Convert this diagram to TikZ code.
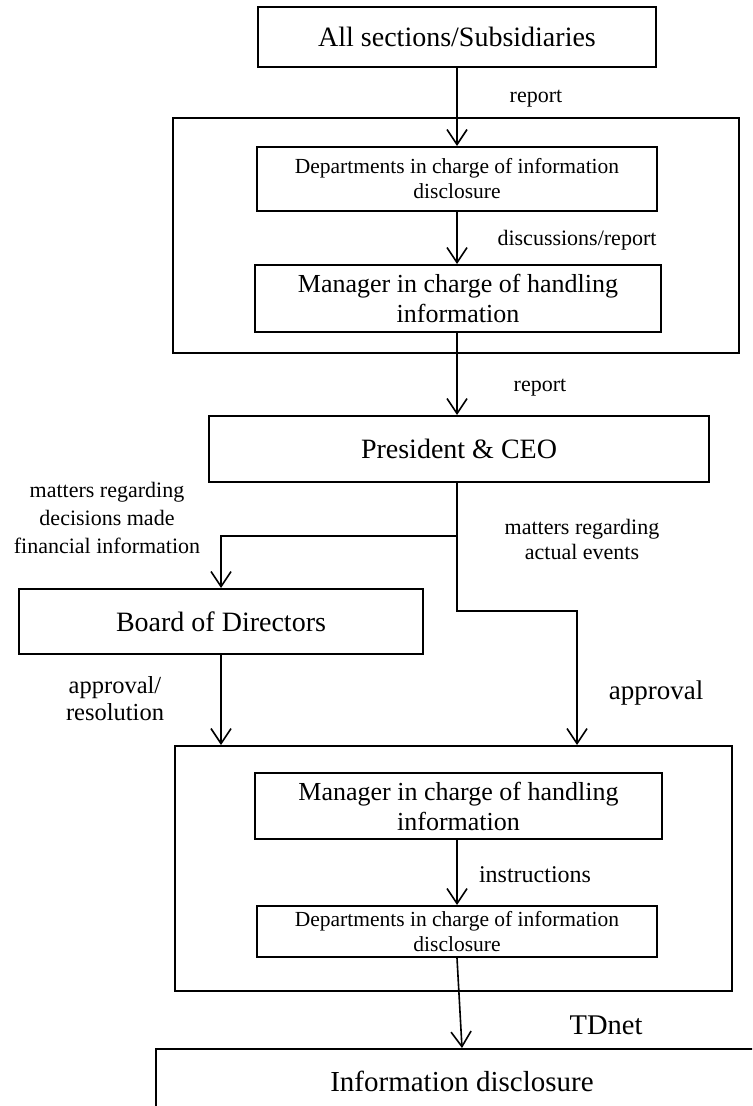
\documentclass[tikz,border=0pt]{standalone}
\usepackage{fontspec}
\setmainfont{Liberation Serif}
\usetikzlibrary{arrows.meta}

\begin{document}
\begin{tikzpicture}[x = 0.5pt, y = -0.5pt,
        box/.style = {draw, line width = 1pt, align = center, inner sep = 0pt},
        arr/.style = {line width = 0.8pt, -{Straight Barb[length = 7.5pt, width = 10pt, line width = 0.8pt]}},
        big/.style = {font = \fontsize{14}{17}\selectfont},
        mid/.style = {font = \fontsize{13}{15}\selectfont},
        small/.style = {font = \fontsize{10.75}{12.5}\selectfont},
        lbl/.style = {align = center, inner sep = 0pt, font = \fontsize{11}{13.5}\selectfont}]
    \clip (0,0) rectangle (752,1106);
    % frames round the two groups
    \node[box, minimum width = 283pt, minimum height = 117.5pt] (grp1) at (456,235.5) {};
    \node[box, minimum width = 278.5pt, minimum height = 122.5pt] (grp2) at (453.5,868.5) {};
    % boxes
    \node[box, big, minimum width = 199pt, minimum height = 30pt] (all) at (457,37) {All sections/Subsidiaries};
    \node[box, small, minimum width = 200pt, minimum height = 32pt] (dept1) at (457,179) {Departments in charge of information\\disclosure};
    \node[box, mid, minimum width = 203pt, minimum height = 33.5pt] (mgr1) at (458,298.5) {Manager in charge of handling\\information};
    \node[box, big, minimum width = 250pt, minimum height = 33pt] (pres) at (459,449) {President \& CEO};
    \node[box, big, minimum width = 202pt, minimum height = 32.5pt] (board) at (221,621.5) {Board of Directors};
    \node[box, mid, minimum width = 203.5pt, minimum height = 33pt] (mgr2) at (458.5,806) {Manager in charge of handling\\information};
    \node[box, small, minimum width = 200pt, minimum height = 25.5pt] (dept2) at (457,931.5) {Departments in charge of information\\disclosure};
    \node[box, big, font = \fontsize{14.5}{17}\selectfont, anchor = north west, minimum width = 306pt, minimum height = 32pt] (disc) at (155,1048) {Information disclosure};
    % connectors
    \coordinate (split) at (457,536);
    \coordinate (bend) at (577,611);
    \draw[arr] (all.south) -- (dept1.north);
    \draw[arr] (dept1.south) -- (mgr1.north -| dept1.south);
    \draw[arr] (mgr1.south -| dept1.south) -- (pres.north -| dept1.south);
    \draw[line width = 0.8pt] (pres.south -| split) -- (split);
    \draw[arr] (split) -| (board.north);
    \draw[arr] (split) |- (bend) -- (bend |- grp2.north);
    \draw[arr] (board.south) -- (board.south |- grp2.north);
    \draw[arr] (mgr2.south -| dept2.north) -- (dept2.north);
    \draw[arr] (dept2.south) -- (disc.north);
    % labels
    \node[lbl] (l1) at (536,99) {report};
    \node[lbl] (l2) at (577,240) {discussions/report};
    \node[lbl] (l3) at (540,388) {report};
    \node[lbl, font = \fontsize{11}{14}\selectfont] (l4) at (107,518) {matters regarding\\decisions made\\financial information};
    \node[lbl, font = \fontsize{11}{12.5}\selectfont] (l5) at (582,539) {matters regarding\\actual events};
    \node[lbl, font = \fontsize{12.25}{13.5}\selectfont] (l6) at (115,699) {approval/\\resolution};
    \node[lbl, font = \fontsize{13.5}{16}\selectfont] (l7) at (656,693) {approval};
    \node[lbl, font = \fontsize{12}{14}\selectfont] (l8) at (535,875) {instructions};
    \node[lbl, font = \fontsize{14.25}{17}\selectfont] (l9) at (606,1025) {TDnet};
\end{tikzpicture}
\end{document}
